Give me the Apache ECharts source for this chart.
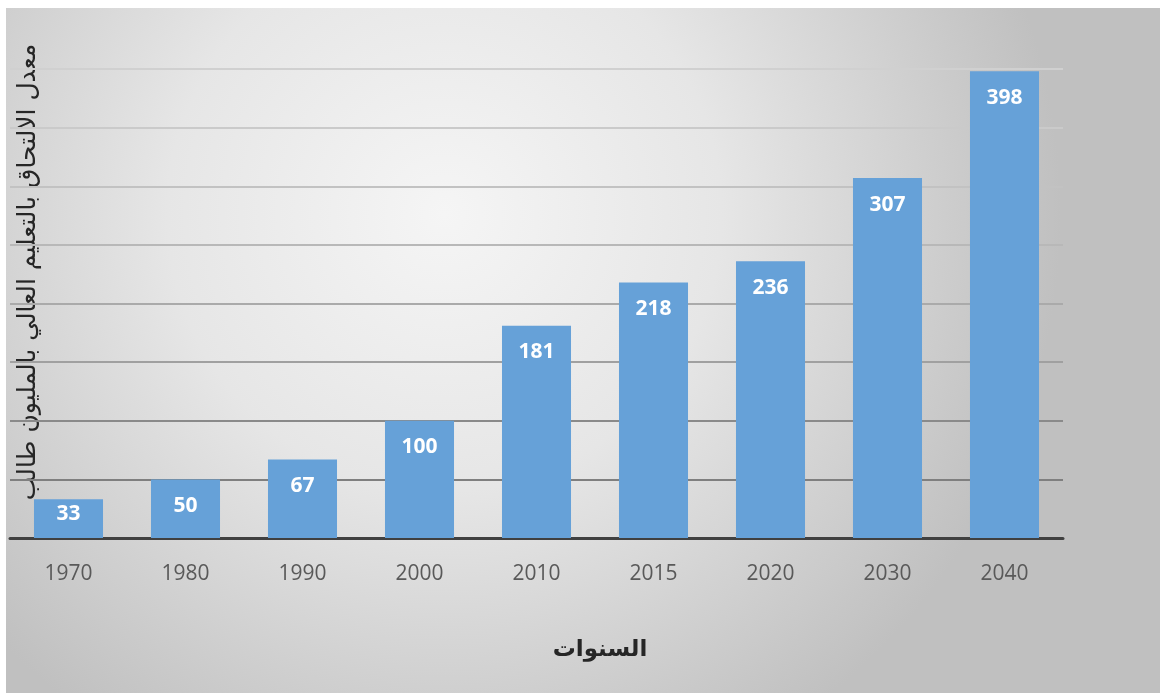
<!DOCTYPE html>
<html>
<head>
<meta charset="utf-8">
<script src="https://cdn.jsdelivr.net/npm/echarts@6/dist/echarts.min.js"></script>
<style>
  html, body { margin: 0; padding: 0; background: #ffffff; }
  body { width: 1160px; height: 693px; position: relative; overflow: hidden; }
  #chart { position: absolute; left: 6px; top: 8px; width: 1154px; height: 685px;
           box-shadow: inset 0 1px 2px rgba(0,0,0,0.25); }
</style>
</head>
<body>
<div id="chart"></div>
<script>
// Higher-education enrolment (millions of students) by year
const years = ['1970', '1980', '1990', '2000', '2010', '2015', '2020', '2030', '2040'];
const enrolment = [33, 50, 67, 100, 181, 218, 236, 307, 398];
const yTitle = 'معدل الالتحاق بالتعليم العالي بالمليون طالب';
const xTitle = 'السنوات';

// gridline shades from 0 up to 400 (darker toward the bottom)
const gridShades = ['#7a7a7a', '#7f7f7f', '#8a8a8a', '#a0a0a0', '#aaaaaa', '#b8b8b8', '#c2c2c2', '#cacaca', '#d0d0d0'];

const chart = echarts.init(document.getElementById('chart'));

const barData = enrolment.map(function (v) {
  const item = { value: v };
  if (v < 40) {
    item.label = { distance: 4 };
  }
  return item;
});

chart.setOption({
  animation: false,
  backgroundColor: {
    type: 'radial', x: 0.38, y: 0.3, r: 0.9,
    colorStops: [
      { offset: 0, color: '#f5f5f5' },
      { offset: 0.45, color: '#e6e6e6' },
      { offset: 1, color: '#c0c0c0' }
    ]
  },
  grid: { left: 4, right: 97, top: 61, bottom: 155 },
  xAxis: {
    type: 'category',
    data: years,
    axisLine: { lineStyle: { color: '#404040', width: 3 } },
    axisTick: { show: false },
    axisLabel: { color: '#595959', fontSize: 21, fontFamily: 'Open Sans', margin: 26 }
  },
  yAxis: {
    type: 'value',
    min: 0, max: 400, interval: 50,
    axisLine: { show: false },
    axisTick: { show: false },
    axisLabel: { show: false },
    splitLine: { lineStyle: { color: gridShades, width: 2 } }
  },
  series: [{
    type: 'bar',
    data: barData,
    barCategoryGap: '41%',
    itemStyle: { color: '#66a1d8' },
    label: {
      show: true,
      position: 'insideTop',
      distance: 16,
      color: '#ffffff',
      fontSize: 21,
      fontWeight: 'bold',
      fontFamily: 'Open Sans'
    }
  }],
  graphic: [
    {
      type: 'text',
      x: 22, y: 264,
      rotation: Math.PI / 2,
      style: {
        text: yTitle,
        fill: '#262626',
        fontSize: 25,
        fontFamily: 'DejaVu Sans',
        align: 'center',
        verticalAlign: 'middle'
      }
    },
    {
      type: 'text',
      x: 594, y: 642,
      style: {
        text: xTitle,
        fill: '#262626',
        fontSize: 23,
        fontWeight: 'bold',
        fontFamily: 'DejaVu Sans',
        align: 'center',
        verticalAlign: 'middle'
      }
    }
  ]
});
</script>
</body>
</html>
